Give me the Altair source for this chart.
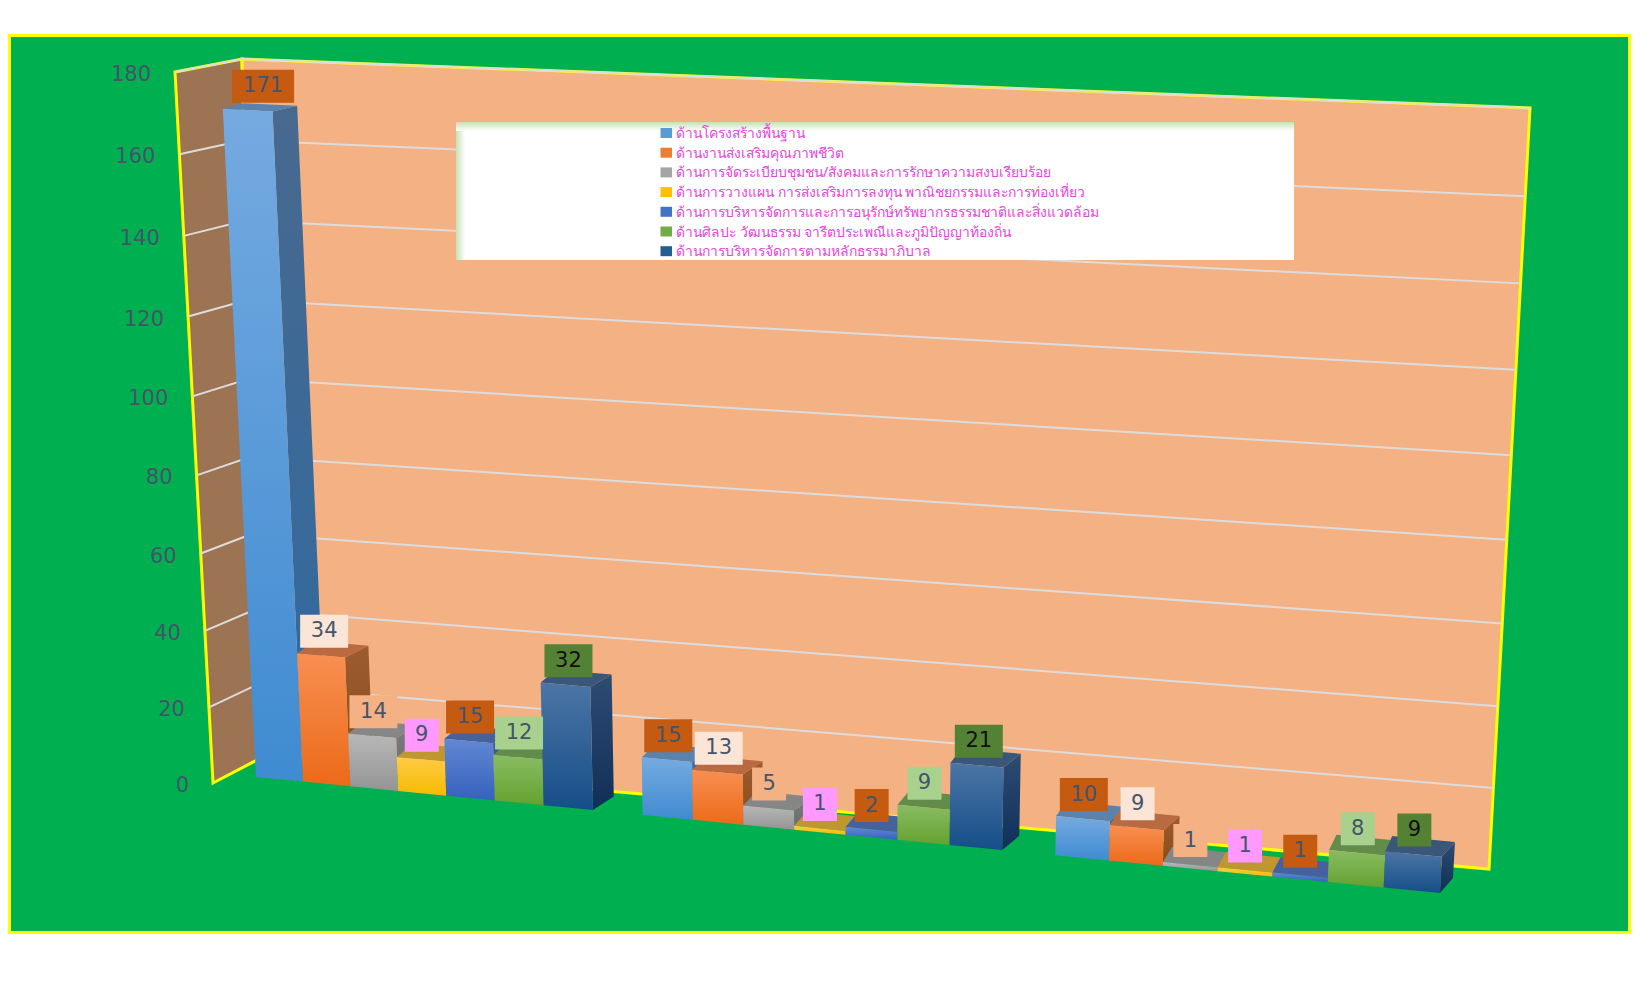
import altair as alt
import pandas as pd

W, H = 1636, 976
OX, OY = 8, 8

series_names = [
    "ด้านโครงสร้างพื้นฐาน",
    "ด้านงานส่งเสริมคุณภาพชีวิต",
    "ด้านการจัดระเบียบชุมชน/สังคมและการรักษาความสงบเรียบร้อย",
    "ด้านการวางแผน การส่งเสริมการลงทุน พาณิชยกรรมและการท่องเที่ยว",
    "ด้านการบริหารจัดการและการอนุรักษ์ทรัพยากรธรรมชาติและสิ่งแวดล้อม",
    "ด้านศิลปะ วัฒนธรรม จารีตประเพณีและภูมิปัญญาท้องถิ่น",
    "ด้านการบริหารจัดการตามหลักธรรมาภิบาล",
]
group_1 = [171, 34, 14, 9, 15, 12, 32]
group_2 = [15, 13, 5, 1, 2, 9, 21]
group_3 = [10, 9, 1, 1, 1, 8, 9]
y_ticks = [0, 20, 40, 60, 80, 100, 120, 140, 160, 180]

front_top = ["#75aae0", "#f88f52", "#b8b8b8", "#ffcb45", "#6288d4", "#88bd62", "#4c75a5"]
front_bot = ["#3f8bd1", "#ec6a18", "#949494", "#f5bb00", "#3662bd", "#65a130", "#154e88"]
side_top = ["#48698f", "#9c5c30", "#7c7c7c", "#a88428", "#3f5c98", "#56823c", "#2e4c72"]
side_bot = ["#2f6aa0", "#8c4a18", "#6a6a6a", "#a88428", "#2c4c90", "#4a7a2c", "#102f58"]
top_col = ["#5b82ad", "#b96a40", "#868686", "#be9730", "#46619b", "#638b4a", "#3a5678"]
label_fill = ["#c55a11", "#fbe5d6", "#f4b183", "#ff99ff", "#c55a11", "#a9d18e", "#548235"]
label_text = ["#44546a"] * 6 + ["#111111"]
legend_col = ["#5b9bd5", "#ed7d31", "#a5a5a5", "#ffc000", "#4472c4", "#70ad47", "#255e91"]

U = 23
V_MAX = 180
PERSPECTIVE_U = 1.1
PERSPECTIVE_V = 0.05


def plane(bl, br, tr, tl, umax=U, r=PERSPECTIVE_U):
    """Map (category position, value) to the page through a perspective plane."""

    def f(u, v):
        w = u / umax
        a = w / (w + r * (1 - w))
        s = v / V_MAX
        t = (s + PERSPECTIVE_V * s * s) / (1 + PERSPECTIVE_V)
        bx, by = bl[0] + (br[0] - bl[0]) * a, bl[1] + (br[1] - bl[1]) * a
        tx, ty = tl[0] + (tr[0] - tl[0]) * a, tl[1] + (tr[1] - tl[1]) * a
        return bx + (tx - bx) * t, by + (ty - by) * t

    return f


front = plane((256, 777), (1440, 893), (1478, 135), (221, 72))
back = plane((280, 764), (1453, 878), (1494, 123), (246, 67))
wall = plane((257, 760), (1489, 869), (1530, 108), (242, 59), r=1.0)
side = plane((213, 783), (257, 760), (242, 59), (175, 72), umax=1, r=1.0)


def poly(points):
    ring = [[x - OX, y - OY] for x, y in points]
    ring.append(ring[0])
    return {"type": "Feature", "geometry": {"type": "Polygon", "coordinates": [ring]}, "properties": {}}


def geo(features):
    return alt.Data(values={"type": "FeatureCollection", "features": features},
                    format=alt.DataFormat(property="features", type="json"))


def grad(c0, c1):
    return alt.LinearGradient(gradient="linear", x1=0, y1=0, x2=0, y2=1,
                              stops=[alt.GradientStop(color=c0, offset=0), alt.GradientStop(color=c1, offset=1)])


IDENT = dict(type="identity", scale=1, translate=[0, 0])


def shapes(features, **mark):
    return alt.Chart(geo(features)).mark_geoshape(**mark).project(**IDENT)


X = lambda f: alt.X(f, type="quantitative", scale=alt.Scale(domain=[0, W], range=[0, W], nice=False), axis=None)
Y = lambda f: alt.Y(f, type="quantitative", scale=alt.Scale(domain=[H, 0], nice=False), axis=None)
X2 = lambda f: alt.X2(f)
Y2 = lambda f: alt.Y2(f)

layers = []

# chart area
area = pd.DataFrame({"x0": [9.5 - OX], "x1": [1629.5 - OX], "y0": [35.5 - OY], "y1": [932.5 - OY]})
layers.append(alt.Chart(area).mark_rect(fill="#00b050", stroke="#ffff00", strokeWidth=3).encode(
    x=X("x0"), x2=X2("x1"), y=Y("y0"), y2=Y2("y1")))

# walls
layers.append(shapes([poly([side(0, 0), side(1, 0), side(1, V_MAX), side(0, V_MAX)])],
                     fill="#9c7353", stroke="#ffff00", strokeWidth=3))
layers.append(shapes([poly([wall(0, 0), wall(U, 0), wall(U, V_MAX), wall(0, V_MAX)])],
                     fill="#f4b183", stroke="#ffff00", strokeWidth=3))

# gridlines
grid = []
for t in y_ticks[1:]:
    a, b, c = side(0, t), side(1, t), wall(U, t)
    for i, p in enumerate((a, b, c)):
        grid.append({"tick": t, "i": i, "x": p[0] - OX, "y": p[1] - OY})
layers.append(alt.Chart(pd.DataFrame(grid)).mark_line(color="#dcdcdc", strokeWidth=2).encode(
    x=X("x"), y=Y("y"), detail="tick:N", order="i:Q"))

# bars
groups = [group_1, group_2, group_3]
LEFT_SHIFT = 0.12
box_rows, text_rows = [], []
for s in range(7):
    sides, tops, fronts = [], [], []
    for g, vals in enumerate(groups):
        u0 = g * 8 + s
        u1 = u0 + 1
        v = vals[s]
        fl0, fr0, fl1, fr1 = front(u0, 0), front(u1, 0), front(u0, v), front(u1, v)
        br0, br1, bl1 = back(u1, 0), back(u1, v), back(u0 - LEFT_SHIFT, v)
        sides.append(poly([fr0, br0, br1, fr1]))
        tops.append(poly([fl1, fr1, br1, bl1]))
        fronts.append(poly([fl0, fr0, fr1, fl1]))
        cx = (fl1[0] + fr1[0]) / 2 + v * 0.09
        cy = (fl1[1] + fr1[1]) / 2 - 24
        half = 31 if v >= 100 else (24 if v >= 10 else 17)
        box_rows.append({"x0": cx - half - OX, "x1": cx + half - OX, "y0": cy - 16.5 - OY, "y1": cy + 16.5 - OY,
                         "fill": label_fill[s]})
        text_rows.append({"x": cx - OX, "y": cy - OY, "t": str(v), "c": label_text[s]})
    layers.append(shapes(sides, fill=grad(side_top[s], side_bot[s])))
    layers.append(shapes(tops, fill=top_col[s]))
    layers.append(shapes(fronts, fill=grad(front_top[s], front_bot[s])))

# data labels
layers.append(alt.Chart(pd.DataFrame(box_rows)).mark_rect().encode(
    x=X("x0"), x2=X2("x1"), y=Y("y0"), y2=Y2("y1"), fill=alt.Fill("fill:N", scale=None)))
layers.append(alt.Chart(pd.DataFrame(text_rows)).mark_text(
    font="DejaVu Sans", fontSize=21, align="center", baseline="middle").encode(
    x=X("x"), y=Y("y"), text="t:N", color=alt.Color("c:N", scale=None)))

# axis labels
axis_rows = []
for t in y_ticks:
    px, py = side(0, t)
    axis_rows.append({"x": px - 24 - OX, "y": py + 3 - OY, "t": str(t)})
layers.append(alt.Chart(pd.DataFrame(axis_rows)).mark_text(
    font="DejaVu Sans", fontSize=21, align="right", baseline="middle", color="#44546a").encode(
    x=X("x"), y=Y("y"), text="t:N"))

# legend
LX0, LX1, LY0, LY1 = 456, 1294, 122, 260
box = pd.DataFrame({"x0": [LX0 - OX], "x1": [LX1 - OX], "y0": [LY0 - OY], "y1": [LY1 - OY]})
layers.append(alt.Chart(box).mark_rect(fill="#ffffff").encode(
    x=X("x0"), x2=X2("x1"), y=Y("y0"), y2=Y2("y1")))
glow_left = pd.DataFrame({"x0": [LX0 - OX], "x1": [LX0 + 9 - OX], "y0": [LY0 - OY], "y1": [LY1 - OY]})
layers.append(alt.Chart(glow_left).mark_rect(
    fill=alt.LinearGradient(gradient="linear", x1=0, y1=0, x2=1, y2=0,
                            stops=[alt.GradientStop(color="#c6e0b4", offset=0),
                                   alt.GradientStop(color="#ffffff", offset=1)])).encode(
    x=X("x0"), x2=X2("x1"), y=Y("y0"), y2=Y2("y1")))
glow_top = pd.DataFrame({"x0": [LX0 - OX], "x1": [LX1 - OX], "y0": [LY0 - OY], "y1": [LY0 + 9 - OY]})
layers.append(alt.Chart(glow_top).mark_rect(
    fill=alt.LinearGradient(gradient="linear", x1=0, y1=0, x2=0, y2=1,
                            stops=[alt.GradientStop(color="#c6e0b4", offset=0),
                                   alt.GradientStop(color="#ffffff", offset=1)])).encode(
    x=X("x0"), x2=X2("x1"), y=Y("y0"), y2=Y2("y1")))
leg = pd.DataFrame({
    "name": series_names,
    "fill": legend_col,
    "x0": [660.5 - OX] * 7, "x1": [672 - OX] * 7,
    "xt": [676 - OX] * 7,
    "yc": [133 + i * 19.7 - OY for i in range(7)],
})
leg["y0"] = leg["yc"] - 5
leg["y1"] = leg["yc"] + 5
leg["yt"] = leg["yc"] + 1
layers.append(alt.Chart(leg).mark_rect().encode(
    x=X("x0"), x2=X2("x1"), y=Y("y0"), y2=Y2("y1"), fill=alt.Fill("fill:N", scale=None)))
layers.append(alt.Chart(leg).mark_text(
    font="Noto Sans", fontSize=13.9, align="left", baseline="middle", color="#e645dc").encode(
    x=X("xt"), y=Y("yt"), text="name:N"))

chart = alt.layer(*layers).properties(
    width=W, height=H, padding=0, background="#ffffff"
).configure_view(stroke=None)

chart.save("out.html", embed_options={"renderer": "svg", "actions": False})
